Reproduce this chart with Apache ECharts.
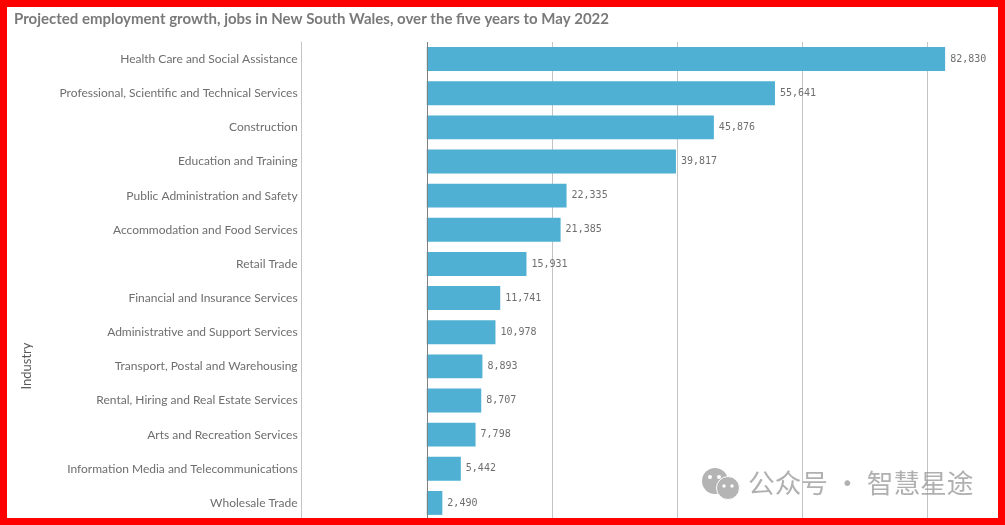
<!DOCTYPE html>
<html>
<head>
<meta charset="utf-8">
<style>html,body{margin:0;padding:0;background:#fff}#c{width:1005px;height:525px}</style>
<script src="https://cdn.jsdelivr.net/npm/echarts@6/dist/echarts.min.js"></script>
</head>
<body>
<div id="c"></div>
<script>
const titleText = 'Projected employment growth, jobs in New South Wales, over the five years to May 2022';
const axisName = 'Industry';
const watermark = '公众号 · 智慧星途';
const categories = [
  'Health Care and Social Assistance',
  'Professional, Scientific and Technical Services',
  'Construction',
  'Education and Training',
  'Public Administration and Safety',
  'Accommodation and Food Services',
  'Retail Trade',
  'Financial and Insurance Services',
  'Administrative and Support Services',
  'Transport, Postal and Warehousing',
  'Rental, Hiring and Real Estate Services',
  'Arts and Recreation Services',
  'Information Media and Telecommunications',
  'Wholesale Trade'
];
const jobs = [82830, 55641, 45876, 39817, 22335, 21385, 15931, 11741, 10978, 8893, 8707, 7798, 5442, 2490];

const chart = echarts.init(document.getElementById('c'), null, {renderer: 'canvas'});
const eye = (x, y, r) => ({type: 'circle', shape: {cx: x, cy: y, r}, style: {fill: '#fff'}, z: 52, silent: true});
chart.setOption({
  animation: false,
  backgroundColor: '#fff',
  title: {
    text: titleText, left: 9, top: 7,
    textStyle: {fontFamily: 'Lato', fontSize: 15, fontWeight: 'bold', color: '#7a7a7a'}
  },
  grid: {left: 301.6, top: 42, width: 688.4, height: 478},
  xAxis: {
    type: 'value', min: -20000, max: 90000, interval: 20000,
    axisLabel: {show: false}, axisTick: {show: false}, axisLine: {show: false},
    splitLine: {show: true, showMaxLine: false, lineStyle: {color: '#c4c4c4', width: 1}}
  },
  yAxis: {
    type: 'category', data: categories, inverse: true,
    name: axisName, nameLocation: 'middle', nameGap: 268, nameRotate: 90,
    nameTextStyle: {fontFamily: 'Lato', fontSize: 13, color: '#595959', padding: [0, 170, 0, 0]},
    axisTick: {show: false},
    axisLine: {show: true, onZero: false, lineStyle: {color: '#c4c4c4', width: 1}},
    axisLabel: {fontFamily: 'Lato', fontSize: 12, color: '#6e6e6e', margin: 4}
  },
  series: [{
    type: 'bar', data: jobs, barWidth: '70%',
    itemStyle: {color: '#4fb0d3'},
    label: {
      show: true, position: 'right', distance: 5,
      fontFamily: 'DejaVu Sans Mono', fontSize: 10, color: '#6e6e6e',
      formatter: p => p.value.toLocaleString('en-US')
    },
    markLine: {
      silent: true, symbol: 'none', animation: false,
      label: {show: false},
      lineStyle: {color: '#808080', width: 1, type: 'solid'},
      data: [{xAxis: 0}]
    }
  }],
  graphic: [
    {type: 'text', x: 748, y: 470, z: 50, silent: true,
     style: {text: watermark, fontFamily: 'Noto Sans CJK SC', fontSize: 26.7, fill: 'rgba(150,150,150,0.75)'}},
    {type: 'circle', shape: {cx: 715, cy: 481, r: 13}, style: {fill: '#b4b4b4'}, z: 50, silent: true},
    {type: 'circle', shape: {cx: 728, cy: 488, r: 11.5}, style: {fill: '#b4b4b4', stroke: '#fff', lineWidth: 1}, z: 51, silent: true},
    eye(710, 477, 2), eye(719, 477, 2), eye(724, 486, 1.7), eye(732, 486, 1.7),
    {type: 'rect', shape: {x: 3.5, y: 3.5, width: 998, height: 518}, z: 100, silent: true,
     style: {fill: 'none', stroke: '#ff0000', lineWidth: 7}}
  ]
});
</script>
</body>
</html>
